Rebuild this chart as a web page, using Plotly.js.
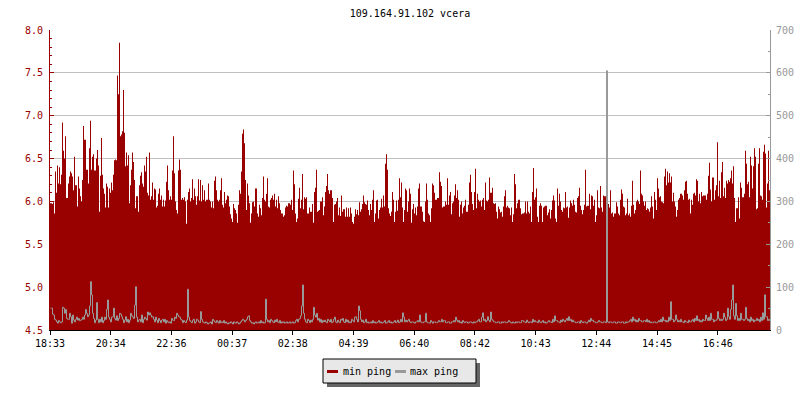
<!DOCTYPE html>
<html>
<head>
<meta charset="utf-8">
<script src="https://cdn.plot.ly/plotly-3.0.1.min.js"></script>
<style>html,body{margin:0;padding:0;background:#fff;}#chart{width:800px;height:400px;}</style>
</head>
<body>
<div id="chart"></div>
<script>
// ---- data ----
const chartTitle = '109.164.91.102 vcera';
const tickLabels = ['18:33','20:34','22:36','00:37','02:38','04:39','06:40','08:42','10:43','12:44','14:45','16:46'];
const seriesNames = ['min ping', 'max ping'];
const stepMinutes = 2;   // sampling interval of both series

// min ping [ms], left axis
const minPing = [
5.98,5.98,5.97,5.99,5.86,6.35,6.10,6.42,6.21,6.40,
6.20,6.31,6.92,6.59,6.50,6.76,6.04,6.04,6.21,6.29,
6.35,6.33,6.29,6.13,6.52,6.19,6.19,5.94,6.29,6.15,
6.06,6.00,6.25,6.88,6.72,6.72,6.37,6.37,6.21,6.62,
6.94,6.37,6.52,6.55,6.36,6.36,6.50,6.60,6.42,5.88,
6.30,6.74,6.31,6.15,6.09,5.93,6.21,6.17,5.93,6.15,
6.10,6.22,6.13,6.31,6.48,6.49,6.48,7.47,7.25,7.85,
6.76,6.78,6.82,7.30,6.80,6.41,6.57,6.42,6.54,5.98,
6.19,6.37,6.57,6.46,6.25,5.92,6.06,6.06,5.88,6.19,
6.30,6.34,6.21,6.17,6.42,6.35,6.52,6.10,6.07,6.57,
6.02,6.06,6.22,6.02,6.15,6.14,5.93,5.95,6.09,6.15,
6.02,6.07,5.94,6.02,5.94,6.01,6.23,6.42,6.13,6.02,
6.06,6.02,6.36,6.76,6.33,6.00,5.90,5.86,6.36,6.49,
6.37,6.02,6.04,6.02,6.05,6.00,5.74,6.02,6.11,6.15,
6.00,6.04,6.26,6.02,6.15,6.06,5.96,6.06,6.26,6.01,
6.25,6.00,6.19,6.02,6.13,6.00,6.02,6.02,6.21,6.02,
6.00,5.93,6.00,5.92,6.24,6.29,6.13,6.02,6.00,6.02,
6.13,6.27,5.96,5.93,6.11,5.98,6.02,6.07,6.06,5.94,
5.85,5.80,5.76,5.97,5.92,5.90,5.86,5.75,5.96,6.13,
6.09,6.35,6.79,6.84,6.68,6.25,5.90,6.21,6.07,5.98,
5.75,5.86,5.99,6.00,5.94,6.15,6.15,5.86,5.82,5.96,
5.92,5.84,6.04,6.29,6.02,6.00,6.09,6.27,5.94,5.93,
6.02,6.04,6.07,6.02,6.09,5.94,6.02,5.92,6.06,5.98,
5.90,5.86,5.86,5.82,5.84,5.93,5.95,5.94,5.98,5.98,
5.96,6.02,5.90,6.36,6.20,5.86,5.76,5.80,6.03,6.16,
5.92,6.02,6.32,5.91,6.05,6.03,6.05,5.86,5.86,5.93,
5.88,5.88,5.97,5.75,6.11,6.16,6.37,5.88,5.89,5.90,
6.00,6.00,6.05,5.84,5.94,6.11,6.18,6.32,6.13,6.09,
6.13,6.13,6.04,5.76,5.96,5.97,6.00,6.04,5.84,5.93,
5.83,6.07,5.88,5.91,5.91,5.82,5.93,5.82,5.92,5.82,
5.93,5.86,5.76,5.74,5.82,5.91,5.85,5.90,5.84,5.99,
5.88,5.91,5.97,6.07,5.99,5.97,5.96,6.01,5.90,5.84,
5.97,5.90,6.02,6.13,5.76,5.86,6.01,6.02,5.80,5.90,
5.93,6.03,5.93,6.07,5.94,6.44,6.55,6.37,5.92,5.86,
5.83,5.88,6.11,6.02,5.76,5.88,6.01,5.89,6.02,6.27,
6.05,6.22,5.93,5.76,5.90,6.15,6.13,5.88,6.00,6.15,
6.09,5.75,5.91,5.97,5.86,5.93,5.84,5.94,6.15,6.21,
5.94,5.94,5.88,5.77,5.76,6.00,6.21,6.02,5.86,5.84,
5.76,5.92,6.21,6.19,6.10,6.02,6.02,6.04,6.04,6.34,
6.23,6.18,5.93,5.94,5.94,6.00,5.96,6.27,5.96,6.07,
6.11,5.85,5.98,6.00,6.07,6.20,6.04,6.13,6.02,5.82,
5.96,6.00,5.86,5.93,5.95,6.02,5.88,5.88,5.96,6.22,
6.31,6.11,5.97,5.90,6.11,6.38,5.92,6.09,6.02,6.00,
6.01,5.94,6.02,6.04,5.90,6.22,6.01,6.00,6.02,6.28,
6.10,6.10,6.16,5.98,5.97,5.98,5.88,5.80,5.94,5.91,
5.87,5.88,5.82,5.94,6.06,6.13,5.93,5.95,5.93,5.92,
5.84,5.93,5.76,5.85,6.32,6.20,5.92,5.98,6.02,6.02,
5.92,5.85,5.86,5.86,5.87,6.00,5.86,6.00,5.88,5.86,
5.94,5.76,6.11,6.39,6.02,6.05,6.15,5.82,5.76,5.95,
5.98,5.95,5.76,5.93,5.94,5.95,5.95,5.84,5.87,5.91,
5.80,5.90,6.01,6.07,6.01,5.80,5.76,6.15,5.95,6.09,
6.00,5.90,5.88,5.93,5.92,6.11,5.93,5.94,5.81,5.93,
6.01,5.98,5.95,6.02,5.96,5.88,5.87,6.04,6.06,6.16,
5.95,5.90,5.85,5.90,5.96,6.37,5.94,5.95,5.95,6.09,
5.91,6.07,6.06,5.95,6.02,5.76,5.84,6.13,5.93,5.92,
6.18,5.93,5.88,6.07,6.06,6.06,6.13,6.04,5.97,5.93,
6.13,5.86,5.87,5.82,5.86,5.86,5.99,5.94,5.86,5.84,
6.02,6.14,6.09,5.94,5.93,5.84,5.86,6.03,5.84,5.86,
5.82,5.95,6.24,5.96,5.86,5.90,6.00,6.02,6.00,5.97,
6.36,6.09,6.07,6.00,5.95,6.00,5.90,5.92,5.91,5.88,
5.93,6.06,5.94,5.80,6.11,6.02,5.90,6.27,6.15,6.05,
6.06,6.00,5.99,5.98,6.29,6.38,6.19,6.35,6.22,6.33,
6.22,6.29,6.00,6.10,6.00,5.94,5.82,5.90,6.02,6.04,
6.09,6.09,6.07,6.02,6.13,6.23,6.24,6.09,6.02,6.03,
5.86,6.02,5.96,6.09,6.10,6.07,6.26,6.24,6.00,6.09,
5.98,6.11,6.06,6.07,6.07,6.07,6.02,6.09,6.30,6.45,
6.14,6.00,6.28,6.28,6.02,6.13,6.19,6.69,6.06,6.24,
6.04,6.34,6.46,6.06,6.16,6.04,6.24,6.21,6.25,6.23,
6.27,6.36,6.21,6.41,6.04,5.76,5.92,5.92,6.05,5.80,
6.22,6.16,6.05,6.05,6.09,6.59,6.44,6.20,6.23,6.05,
6.52,6.42,6.15,6.41,6.62,6.52,5.91,5.92,6.44,6.62,
6.07,6.06,6.02,6.58,6.66,6.56,5.93,6.21,6.59,6.13
];

// max ping [ms], right axis
const maxPing = [
51,51,37,35,25,23,19,16,22,19,
17,19,53,51,39,48,27,25,25,39,
31,16,35,23,19,25,30,23,27,22,
23,25,30,25,35,48,39,31,35,56,
113,82,39,27,17,23,64,25,17,25,
19,30,17,22,30,25,48,70,30,25,
19,30,31,51,27,23,33,22,27,39,
37,31,25,17,23,31,19,25,17,23,
39,33,30,27,58,101,30,19,23,25,
19,35,17,25,30,27,23,42,35,40,
35,30,31,25,19,30,23,17,27,22,
17,23,25,19,25,16,22,19,17,19,
16,27,23,22,30,27,39,35,31,30,
25,23,17,22,19,17,23,95,30,22,
19,17,23,25,16,19,25,23,19,17,
43,25,19,17,16,19,17,14,16,17,
19,14,25,22,19,17,22,19,16,22,
17,19,17,22,16,19,16,14,17,16,
19,17,14,19,17,16,19,17,14,16,
19,22,25,23,19,22,25,31,33,22,
19,16,17,14,17,19,16,17,19,16,
22,17,19,16,17,72,25,19,22,17,
25,22,19,17,23,19,25,19,17,22,
16,19,17,19,16,17,19,16,17,19,
16,17,19,16,17,22,25,19,25,27,
33,56,105,39,25,19,17,25,22,17,
23,19,25,53,35,30,39,23,27,19,
25,17,22,19,23,19,17,25,22,19,
25,17,19,25,30,19,17,23,19,17,
25,23,27,19,17,25,19,23,17,19,
17,25,22,19,30,31,25,19,56,45,
25,19,23,17,19,25,17,19,16,17,
19,16,22,17,19,16,17,19,22,17,
19,16,17,19,22,16,17,19,22,17,
19,16,17,19,22,17,19,23,17,19,
25,19,40,30,19,23,19,22,25,19,
17,19,19,17,16,19,19,22,19,35,
19,17,17,19,19,39,19,17,17,16,
22,19,16,19,19,17,17,19,22,19,
19,25,19,22,22,17,17,19,19,16,
16,19,19,22,19,30,23,19,22,17,
19,16,22,19,17,19,19,16,17,19,
19,17,16,19,17,19,19,22,25,19,
19,30,40,22,25,19,22,31,23,19,
42,25,22,19,19,17,17,19,19,16,
16,19,17,19,19,17,17,19,22,19,
17,16,19,17,16,19,17,19,19,17,
17,22,22,19,19,17,23,19,17,19,
19,17,25,19,22,19,19,17,23,19,
17,19,22,17,19,16,17,19,22,19,
19,17,25,19,33,22,22,19,19,17,
23,19,25,22,19,23,27,22,31,22,
25,19,23,19,19,17,17,19,19,16,
22,19,17,19,19,17,16,19,23,19,
27,22,23,19,19,17,17,19,22,19,
19,17,17,19,19,17,605,19,17,19,
19,17,17,19,19,16,16,19,19,17,
17,19,19,16,16,19,17,19,19,22,
25,19,30,22,25,19,23,19,27,22,
22,19,19,22,22,19,25,19,22,17,
19,17,17,19,19,17,17,19,22,19,
25,19,30,22,23,19,22,19,30,22,
66,25,25,19,22,35,25,19,22,19,
25,19,19,17,22,19,19,17,23,19,
19,22,25,19,27,22,33,22,25,19,
22,19,25,22,22,35,27,22,30,22,
39,25,25,19,23,22,25,43,27,22,
25,22,25,39,30,22,25,51,31,25,
48,70,105,33,25,62,33,22,27,22,
39,25,25,22,25,53,27,22,25,19,
30,22,25,19,23,22,27,22,25,19,
30,22,40,25,82,31,31,22,25,22
];

// ---- build traces ----
// step series; offset shifts the step edges (in minutes) so 1px lines land on pixel columns
function stepSeries(vals, step, offset) {
  const x = vals.map((_, i) => i * step + offset);
  const y = vals.slice();
  x.push(vals.length * step + offset);      // close the last step
  y.push(vals[vals.length - 1]);
  return {x, y};
}
const minS = stepSeries(minPing, stepMinutes, 0);
const maxS = stepSeries(maxPing, stepMinutes, stepMinutes / 2);
const spanMinutes = minPing.length * stepMinutes;

const RED = '#990000', GRAY = '#999999';
const FONT = 'DejaVu Sans Mono, Liberation Mono, monospace';

const traces = [
  {x: minS.x, y: minS.y, name: seriesNames[0], type: 'scatter', mode: 'lines',
   line: {shape: 'hv', color: RED, width: 0}, fill: 'tozeroy', fillcolor: RED,
   yaxis: 'y', hoverinfo: 'skip'},
  {x: maxS.x, y: maxS.y, name: seriesNames[1], type: 'scatter', mode: 'lines',
   line: {shape: 'hv', color: GRAY, width: 1},
   yaxis: 'y2', hoverinfo: 'skip'}
];

// ---- layout helpers (pixel -> paper for the hand-drawn legend) ----
const M = {l: 50, r: 30, t: 30, b: 70}, W = 800, H = 400;
const PW = W - M.l - M.r, PH = H - M.t - M.b;
const px = v => (v - M.l) / PW;
const py = v => (H - M.b - v) / PH;

const legBox = {x0: 323, x1: 476, y0: 359, y1: 383};
const shapes = [
  {type: 'rect', xref: 'paper', yref: 'paper', x0: px(legBox.x0 + 4), x1: px(legBox.x1 + 4),
   y0: py(legBox.y1 + 4), y1: py(legBox.y0 + 4), fillcolor: '#666666', line: {width: 0}},
  {type: 'rect', xref: 'paper', yref: 'paper', x0: px(legBox.x0), x1: px(legBox.x1),
   y0: py(legBox.y1), y1: py(legBox.y0), fillcolor: '#e8e8e8', line: {color: '#000', width: 1}},
  {type: 'line', xref: 'paper', yref: 'paper', x0: px(327), x1: px(338), y0: py(371.5), y1: py(371.5),
   line: {color: RED, width: 3}},
  {type: 'line', xref: 'paper', yref: 'paper', x0: px(395), x1: px(406), y0: py(371.5), y1: py(371.5),
   line: {color: GRAY, width: 3}}
];
const annotations = [
  {text: seriesNames[0], xref: 'paper', yref: 'paper', x: px(340.5), y: py(371), xanchor: 'left', yanchor: 'middle',
   showarrow: false, font: {family: FONT, size: 10, color: '#000000'}},
  {text: seriesNames[1], xref: 'paper', yref: 'paper', x: px(408), y: py(371), xanchor: 'left', yanchor: 'middle',
   showarrow: false, font: {family: FONT, size: 10, color: '#000000'}}
];

const tickStep = 121.4; // minutes between the labelled ticks
const layout = {
  width: W, height: H, margin: M,
  paper_bgcolor: '#ffffff', plot_bgcolor: '#ffffff',
  showlegend: false,
  font: {family: FONT, size: 10, color: '#000'},
  title: {text: chartTitle, x: 0.5, xref: 'paper', xanchor: 'center',
          y: 1 - 13 / H, yref: 'container', yanchor: 'middle',
          font: {family: FONT, size: 10, color: '#000'}},
  xaxis: {range: [0, spanMinutes], tickmode: 'array',
          tickvals: tickLabels.map((_, i) => i * tickStep), ticktext: tickLabels,
          ticks: 'outside', ticklen: 4, tickcolor: '#000', tickwidth: 1,
          showline: true, linecolor: '#000', linewidth: 1, showgrid: false, zeroline: false,
          tickfont: {family: FONT, size: 10, color: '#000'}, fixedrange: true},
  yaxis: {range: [4.5, 8.0], tick0: 4.5, dtick: 0.5, tickformat: '.1f',
          ticks: 'inside', ticklen: 4, tickcolor: RED, tickwidth: 1,
          showline: true, linecolor: RED, linewidth: 1,
          showgrid: true, gridcolor: '#c0c0c0', gridwidth: 1, zeroline: false,
          tickfont: {family: FONT, size: 10, color: RED}, ticklabelstandoff: 4,
          minor: {dtick: 0.1, ticks: 'inside', ticklen: 2, tickcolor: RED, showgrid: false},
          fixedrange: true},
  yaxis2: {overlaying: 'y', side: 'right', range: [0, 700], tick0: 0, dtick: 100,
           ticks: 'inside', ticklen: 4, tickcolor: GRAY, tickwidth: 1,
           showline: true, linecolor: GRAY, linewidth: 1, showgrid: false, zeroline: false,
           tickfont: {family: FONT, size: 10, color: GRAY}, ticklabelstandoff: 3,
           minor: {dtick: 50, ticks: 'inside', ticklen: 2, tickcolor: GRAY, showgrid: false},
           fixedrange: true},
  shapes: shapes,
  annotations: annotations
};

Plotly.newPlot('chart', traces, layout, {staticPlot: true, displayModeBar: false});
</script>
</body>
</html>
